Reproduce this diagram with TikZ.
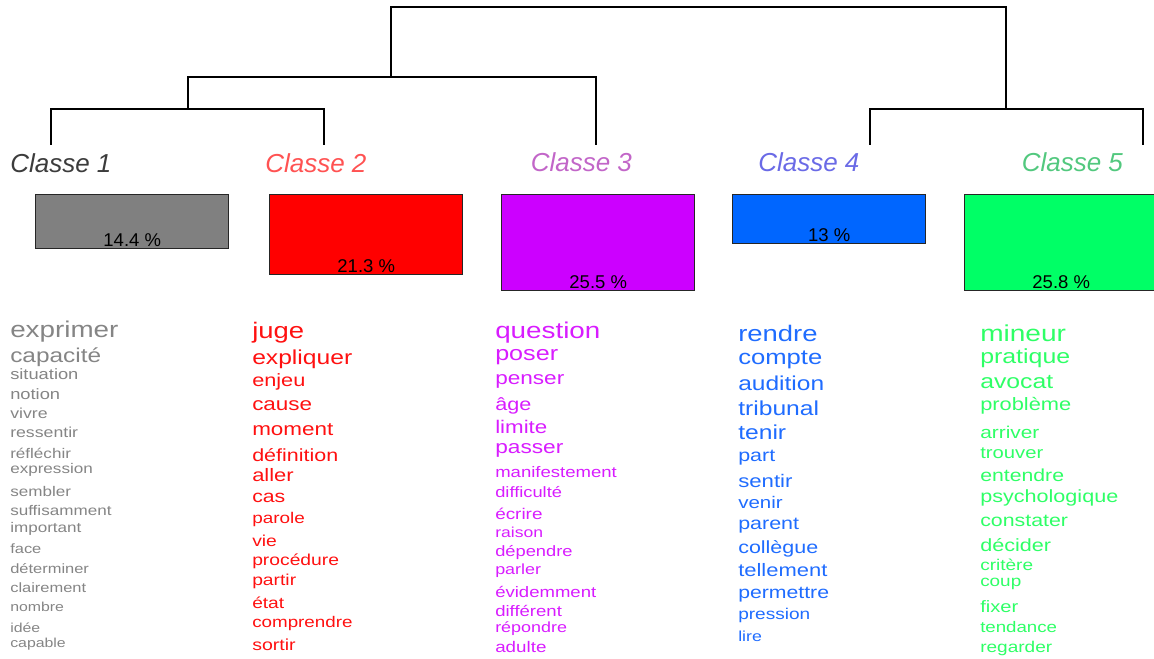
\documentclass[tikz,border=0pt]{standalone}
\usepackage{fontspec}
\setmainfont{Liberation Sans}
\newfontfamily\wordfont[FakeStretch=1.22]{Liberation Sans}
\newdimen\px \px=0.75pt
\definecolor{gris}{HTML}{808080}
\definecolor{rouge}{HTML}{FF0000}
\definecolor{violet}{HTML}{CC00FF}
\definecolor{bleu}{HTML}{0066FF}
\definecolor{vert}{HTML}{00FF66}
\definecolor{motgris}{HTML}{858585}
\definecolor{motrouge}{HTML}{FF1010}
\definecolor{motviolet}{HTML}{D81CFF}
\definecolor{motbleu}{HTML}{1F6CFF}
\definecolor{motvert}{HTML}{2EFF66}
\definecolor{labgris}{HTML}{3C3C3C}
\definecolor{labrouge}{HTML}{FF5252}
\definecolor{labviolet}{HTML}{C266C8}
\definecolor{labbleu}{HTML}{6A6AE6}
\definecolor{labvert}{HTML}{52C87E}

\begin{document}
\begin{tikzpicture}[x=0.75pt, y=-0.75pt,
  word/.style={font=\wordfont\fontsize{#1\px}{#1\px}\selectfont, anchor=base west, inner sep=0},
  classe/.style={font=\fontsize{26\px}{26\px}\selectfont\itshape, anchor=base west, inner sep=0},
  bar/.style={draw=black!85, line width=1.1pt, anchor=north west, minimum width=193\px, inner sep=0},
  pct/.style={font=\fontsize{18.5\px}{18.5\px}\selectfont, anchor=base, inner sep=0}]
\useasboundingbox (0,0) rectangle (1154,659);
% Dendrogram:
\coordinate (l1) at (51,145);
\coordinate (l2) at (324,145);
\coordinate (l3) at (596,145);
\coordinate (l4) at (870,145);
\coordinate (l5) at (1143,145);
\coordinate (j12) at (188,109);
\coordinate (j123) at (391,77);
\coordinate (j45) at (1006,109);
\coordinate (root) at (700,7);
\draw [line width=1pt] (l1) |- (j12) -| (l2);
\draw [line width=1pt] (j12) |- (j123) -| (l3);
\draw [line width=1pt] (l4) |- (j45) -| (l5);
\draw [line width=1pt] (j123) |- (root) -| (j45);
% Class names:
\node[classe, text=labgris] (c1) at (10,172.5) {Classe 1};
\node[classe, text=labrouge] (c2) at (265,172.5) {Classe 2};
\node[classe, text=labviolet] (c3) at (530.5,172) {Classe 3};
\node[classe, text=labbleu] (c4) at (758,172) {Classe 4};
\node[classe, text=labvert] (c5) at (1021.5,172) {Classe 5};
% Bars:
\node[bar, fill=gris, minimum height=53.7\px] (b1) at (35,194) {};
\node[bar, fill=rouge, minimum height=80\px] (b2) at (269,194) {};
\node[bar, fill=violet, minimum height=96\px] (b3) at (501,194) {};
\node[bar, fill=bleu, minimum height=48.7\px] (b4) at (732,194) {};
\node[bar, fill=vert, minimum height=96\px] (b5) at (964,194) {};
\node[pct] (p1) at ([yshift=1.9pt]b1.south) {14.4 \%};
\node[pct] (p2) at ([yshift=1.9pt]b2.south) {21.3 \%};
\node[pct] (p3) at ([yshift=1.9pt]b3.south) {25.5 \%};
\node[pct] (p4) at ([yshift=1.9pt]b4.south) {13 \%};
\node[pct] (p5) at ([yshift=1.9pt]b5.south) {25.8 \%};
% Words, class 1:
\node[word=22.8, text=motgris] (w1-1) at (10,338) {exprimer};
\node[word=20, text=motgris] (w1-2) at (10,363) {capacité};
\node[word=15, text=motgris] (w1-3) at (10,380) {situation};
\node[word=15, text=motgris] (w1-4) at (10,400) {notion};
\node[word=14.5, text=motgris] (w1-5) at (10,419) {vivre};
\node[word=14.5, text=motgris] (w1-6) at (10,438) {ressentir};
\node[word=14, text=motgris] (w1-7) at (10,459) {réfléchir};
\node[word=14, text=motgris] (w1-8) at (10,474) {expression};
\node[word=14, text=motgris] (w1-9) at (10,496) {sembler};
\node[word=14, text=motgris] (w1-10) at (10,515) {suffisamment};
\node[word=14, text=motgris] (w1-11) at (10,532) {important};
\node[word=13.5, text=motgris] (w1-12) at (10,553) {face};
\node[word=13.5, text=motgris] (w1-13) at (10,573) {déterminer};
\node[word=13.5, text=motgris] (w1-14) at (10,592) {clairement};
\node[word=13, text=motgris] (w1-15) at (10,611) {nombre};
\node[word=13, text=motgris] (w1-16) at (10,632) {idée};
\node[word=13, text=motgris] (w1-17) at (10,647) {capable};
% Words, class 2:
\node[word=22.5, text=motrouge] (w2-1) at (252,338.5) {juge};
\node[word=20.2, text=motrouge] (w2-2) at (252,364.7) {expliquer};
\node[word=17.8, text=motrouge] (w2-3) at (252,386.5) {enjeu};
\node[word=18.4, text=motrouge] (w2-4) at (252,410.7) {cause};
\node[word=18.4, text=motrouge] (w2-5) at (252,435.8) {moment};
\node[word=17.6, text=motrouge] (w2-6) at (252,461) {définition};
\node[word=18, text=motrouge] (w2-7) at (252,481) {aller};
\node[word=17.4, text=motrouge] (w2-8) at (252,502) {cas};
\node[word=15.5, text=motrouge] (w2-9) at (252,523.8) {parole};
\node[word=15.8, text=motrouge] (w2-10) at (252,546) {vie};
\node[word=15.8, text=motrouge] (w2-11) at (252,565.7) {procédure};
\node[word=15.8, text=motrouge] (w2-12) at (252,585.8) {partir};
\node[word=15.7, text=motrouge] (w2-13) at (252,608.7) {état};
\node[word=15.4, text=motrouge] (w2-14) at (252,627) {comprendre};
\node[word=16, text=motrouge] (w2-15) at (252,650.6) {sortir};
% Words, class 3:
\node[word=22.8, text=motviolet] (w3-1) at (495,338.5) {question};
\node[word=20.6, text=motviolet] (w3-2) at (495,360.3) {poser};
\node[word=18.5, text=motviolet] (w3-3) at (495,384.5) {penser};
\node[word=17.7, text=motviolet] (w3-4) at (495,410.7) {âge};
\node[word=18.3, text=motviolet] (w3-5) at (495,434) {limite};
\node[word=18.6, text=motviolet] (w3-6) at (495,453.6) {passer};
\node[word=15.2, text=motviolet] (w3-7) at (495,477.8) {manifestement};
\node[word=15, text=motviolet] (w3-8) at (495,498) {difficulté};
\node[word=15.5, text=motviolet] (w3-9) at (495,519) {écrire};
\node[word=14.4, text=motviolet] (w3-10) at (495,537.5) {raison};
\node[word=15, text=motviolet] (w3-11) at (495,556) {dépendre};
\node[word=14.7, text=motviolet] (w3-12) at (495,574.4) {parler};
\node[word=15.2, text=motviolet] (w3-13) at (495,597) {évidemment};
\node[word=15.2, text=motviolet] (w3-14) at (495,616) {différent};
\node[word=14.7, text=motviolet] (w3-15) at (495,632.8) {répondre};
\node[word=15.4, text=motviolet] (w3-16) at (495,652.3) {adulte};
% Words, class 4:
\node[word=22.5, text=motbleu] (w4-1) at (738,341.9) {rendre};
\node[word=21, text=motbleu] (w4-2) at (738,364.4) {compte};
\node[word=20.1, text=motbleu] (w4-3) at (738,390.5) {audition};
\node[word=20.2, text=motbleu] (w4-4) at (738,415.7) {tribunal};
\node[word=20.2, text=motbleu] (w4-5) at (738,439.2) {tenir};
\node[word=17.6, text=motbleu] (w4-6) at (738,461) {part};
\node[word=18.2, text=motbleu] (w4-7) at (738,487.8) {sentir};
\node[word=16.8, text=motbleu] (w4-8) at (738,508.7) {venir};
\node[word=17.6, text=motbleu] (w4-9) at (738,529.8) {parent};
\node[word=17.6, text=motbleu] (w4-10) at (738,553.3) {collègue};
\node[word=18, text=motbleu] (w4-11) at (738,576.8) {tellement};
\node[word=17.4, text=motbleu] (w4-12) at (738,598) {permettre};
\node[word=15.6, text=motbleu] (w4-13) at (738,619.4) {pression};
\node[word=14.5, text=motbleu] (w4-14) at (738,641.5) {lire};
% Words, class 5:
\node[word=23, text=motvert] (w5-1) at (980,341.9) {mineur};
\node[word=20.4, text=motvert] (w5-2) at (980,363.7) {pratique};
\node[word=20.3, text=motvert] (w5-3) at (980,388.9) {avocat};
\node[word=17.9, text=motvert] (w5-4) at (980,410.7) {problème};
\node[word=17.1, text=motvert] (w5-5) at (980,438.2) {arriver};
\node[word=16.6, text=motvert] (w5-6) at (980,458.3) {trouver};
\node[word=17.4, text=motvert] (w5-7) at (980,481.8) {entendre};
\node[word=17.7, text=motvert] (w5-8) at (980,502) {psychologique};
\node[word=17.5, text=motvert] (w5-9) at (980,526.4) {constater};
\node[word=17.7, text=motvert] (w5-10) at (980,551) {décider};
\node[word=15.6, text=motvert] (w5-11) at (980,570) {critère};
\node[word=15.5, text=motvert] (w5-12) at (980,586.8) {coup};
\node[word=16.5, text=motvert] (w5-13) at (980,612) {fixer};
\node[word=15.3, text=motvert] (w5-14) at (980,632.8) {tendance};
\node[word=15.6, text=motvert] (w5-15) at (980,652.3) {regarder};
\end{tikzpicture}
\end{document}
